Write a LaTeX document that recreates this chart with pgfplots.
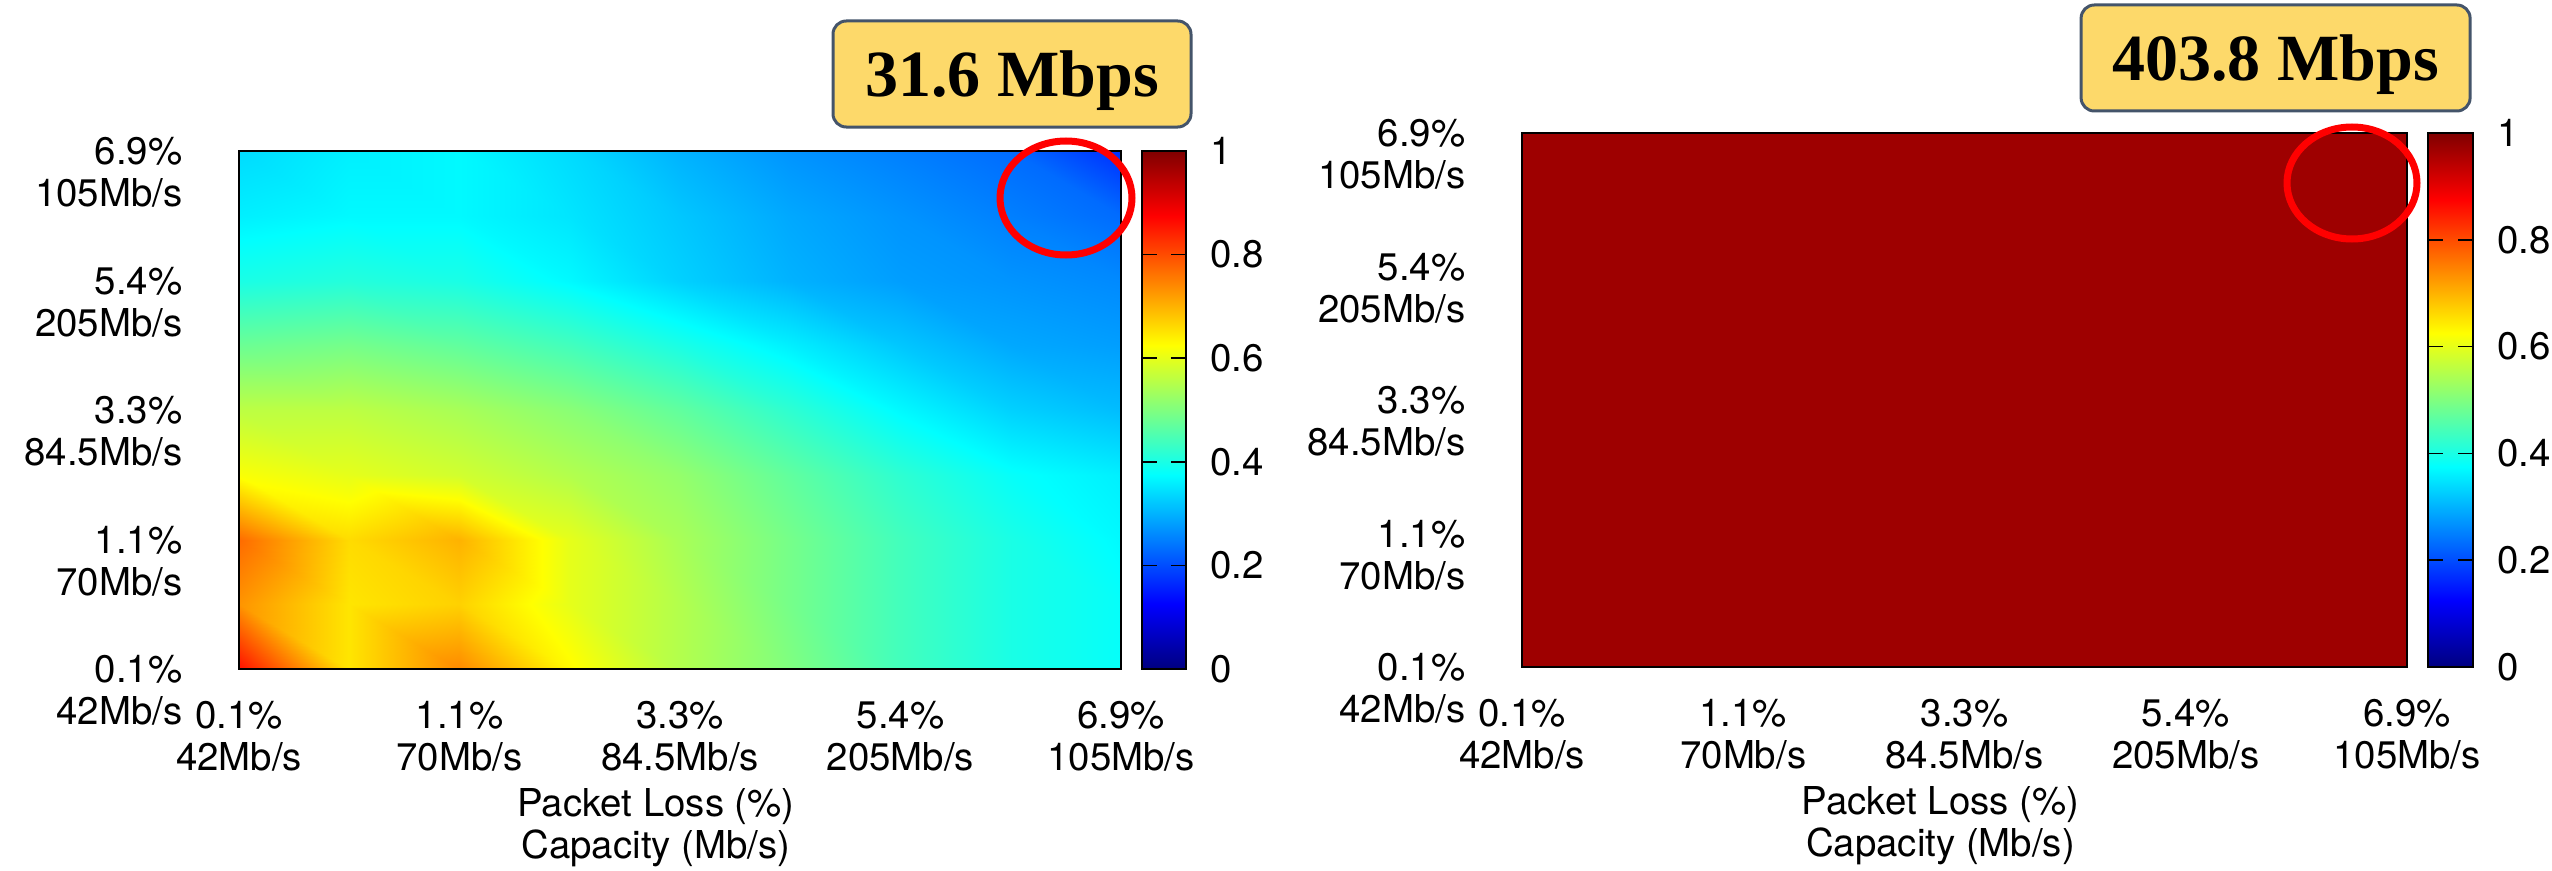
\documentclass[border=0pt]{standalone}
\usepackage{pgfplots}
\pgfplotsset{compat=1.18}
\usepackage{fontspec}
\newfontfamily\hv{TeX Gyre Heros}
\newfontfamily\tms{Liberation Serif}
\definecolor{boxfill}{RGB}{253,217,106}
\definecolor{boxdraw}{RGB}{68,84,106}
\newcommand\axfont{\hv\fontsize{9.6}{10.5}\selectfont}
\pgfplotsset{
  hm/.style={
    scale only axis,
    xmin=0, xmax=4, ymin=0, ymax=4,
    xtick={0,1,2,3,4}, ytick={0,1,2,3,4},
    xticklabels={{0.1\%\\42Mb/s},{1.1\%\\70Mb/s},{3.3\%\\84.5Mb/s},{5.4\%\\205Mb/s},{6.9\%\\105Mb/s}},
    yticklabels={{0.1\%\\42Mb/s},{1.1\%\\70Mb/s},{3.3\%\\84.5Mb/s},{5.4\%\\205Mb/s},{6.9\%\\105Mb/s}},
    major tick length=0pt,
    tick label style={font=\axfont},
    xticklabel style={align=center, yshift=-4.5pt},
    yticklabel style={align=right, anchor=base east, yshift=-13.9pt, xshift=-10.6pt},
    xlabel={Packet Loss (\%)\\Capacity (Mb/s)},
    xlabel style={font=\axfont, align=center, xshift=-6pt, yshift=2.6pt},
    axis line style={black, line width=0.5pt},
    colormap/jet,
    point meta min=0, point meta max=1,
    axis on top,
    colorbar,
  },
  cb/.style={
    colorbar style={
      scale only axis,
      at={(parent axis.north east)}, anchor=north west, xshift={5.25pt-0.3cm},
      width=#1,
      ytick={0,0.2,0.4,0.6,0.8,1},
      yticklabel style={font=\axfont, /pgf/number format/assume math mode=true, xshift=2.5pt},
      major tick length=3.75pt, tick align=inside, ytick pos=both, yticklabel pos=right,
      tick style={black, line width=0.4pt},
      axis line style={black, line width=0.5pt},
    },
  },
}
\begin{document}
\begin{tikzpicture}
\begin{axis}[hm, cb=11pt, width=220.5pt, height=129.5pt,
  colorbar style={height=129.5pt},
  at={(59.75pt,50.25pt)}, anchor=south west]
\addplot[surf, shader=interp, mesh/rows=9, mesh/cols=9, point meta=explicit] table[meta=z] {
x y z
0 0 0.86
0.5 0 0.65
1 0 0.74
1.5 0 0.63
2 0 0.55
2.5 0 0.50
3 0 0.44
3.5 0 0.40
4 0 0.38
0 0.5 0.73
0.5 0.5 0.65
1 0.5 0.67
1.5 0.5 0.60
2 0.5 0.55
2.5 0.5 0.49
3 0.5 0.44
3.5 0.5 0.40
4 0.5 0.38
0 1 0.77
0.5 1 0.66
1 1 0.70
1.5 1 0.60
2 1 0.54
2.5 1 0.49
3 1 0.44
3.5 1 0.40
4 1 0.37
0 1.5 0.62
0.5 1.5 0.60
1 1.5 0.58
1.5 1.5 0.55
2 1.5 0.52
2.5 1.5 0.47
3 1.5 0.42
3.5 1.5 0.38
4 1.5 0.36
0 2 0.56
0.5 2 0.56
1 2 0.54
1.5 2 0.51
2 2 0.47
2.5 2 0.42
3 2 0.37
3.5 2 0.33
4 2 0.31
0 2.5 0.48
0.5 2.5 0.49
1 2.5 0.47
1.5 2.5 0.44
2 2.5 0.40
2.5 2.5 0.36
3 2.5 0.32
3.5 2.5 0.29
4 2.5 0.28
0 3 0.40
0.5 3 0.41
1 3 0.40
1.5 3 0.37
2 3 0.33
2.5 3 0.30
3 3 0.28
3.5 3 0.27
4 3 0.26
0 3.5 0.36
0.5 3.5 0.37
1 3.5 0.37
1.5 3.5 0.35
2 3.5 0.32
2.5 3.5 0.29
3 3.5 0.27
3.5 3.5 0.25
4 3.5 0.23
0 4 0.34
0.5 4 0.36
1 4 0.37
1.5 4 0.34
2 4 0.30
2.5 4 0.27
3 4 0.25
3.5 4 0.23
4 4 0.17
};
\end{axis}
\begin{axis}[hm, cb=11.25pt, width=221.25pt, height=133.5pt,
  colorbar style={height=133.5pt},
  at={(380.5pt,50.75pt)}, anchor=south west]
\addplot[surf, shader=interp, mesh/rows=5, mesh/cols=5, point meta=explicit] table[meta=z] {
x y z
0 0 0.97
1 0 0.97
2 0 0.97
3 0 0.97
4 0 0.97
0 1 0.97
1 1 0.97
2 1 0.97
3 1 0.97
4 1 0.97
0 2 0.97
1 2 0.97
2 2 0.97
3 2 0.97
4 2 0.97
0 3 0.97
1 3 0.97
2 3 0.97
3 3 0.97
4 3 0.97
0 4 0.97
1 4 0.97
2 4 0.97
3 4 0.97
4 4 0.97
};
\end{axis}
% annotation boxes
\node[draw=boxdraw, fill=boxfill, line width=0.75pt, rounded corners=3.3pt,
  minimum width=89.5pt, minimum height=26.5pt, inner sep=0pt, text depth=0pt,
  font=\tms\bfseries\fontsize{16.5}{18}\selectfont] at (253pt,199pt) {31.6 Mbps};
\node[draw=boxdraw, fill=boxfill, line width=0.75pt, rounded corners=3.3pt,
  minimum width=97.25pt, minimum height=26.5pt, inner sep=0pt, text depth=0pt,
  font=\tms\bfseries\fontsize{16.5}{18}\selectfont] at (568.9pt,203pt) {403.8 Mbps};
% red ellipses
\draw[red, line width=1.75pt] (266.5pt,168pt) ellipse [x radius=16.5pt, y radius=14.25pt];
\draw[red, line width=1.75pt] (588pt,171.75pt) ellipse [x radius=16.25pt, y radius=14pt];
\pgfresetboundingbox
\useasboundingbox (0pt,0pt) rectangle (638pt,217.5pt);
\end{tikzpicture}
\end{document}
